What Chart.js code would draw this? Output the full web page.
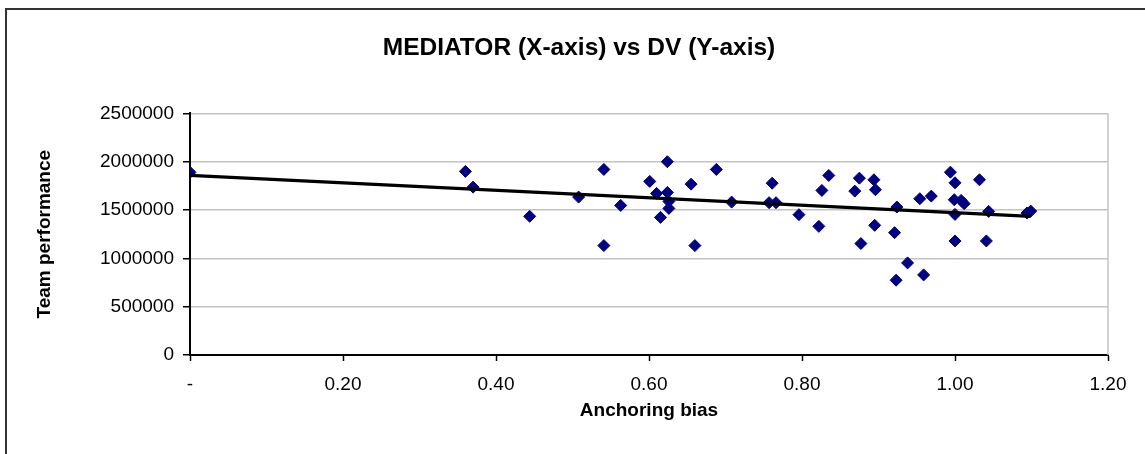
<!DOCTYPE html>
<html>
<head>
<meta charset="utf-8">
<script src="https://cdn.jsdelivr.net/npm/chart.js@4.4.1/dist/chart.umd.min.js"></script>
<style>
  html, body { margin: 0; padding: 0; background: #fff; overflow: hidden; }
  #wrap { width: 1145px; height: 454px; overflow: hidden; }
</style>
</head>
<body>
<div id="wrap"><canvas id="grafico" width="1158" height="470"></canvas></div>
<script>
// anchoring bias (x) and team performance (y)
const anchoring = [
    0.00, 0.36, 0.37, 0.444, 0.508, 0.541, 0.541, 0.563, 0.601, 0.615,
    0.610, 0.624, 0.626, 0.626, 0.624, 0.655, 0.660, 0.688, 0.708, 0.757,
    0.766, 0.761, 0.796, 0.822, 0.826, 0.835, 0.869, 0.875, 0.877, 0.894,
    0.896, 0.895, 0.921, 0.924, 0.923, 0.938, 0.959, 0.954, 0.969, 0.994,
    1.000, 0.999, 1.008, 1.012, 1.000, 1.000, 1.032, 1.044, 1.041, 1.094,
    1.099
];
const performance = [
    1890000, 1900000, 1737000, 1435000, 1634000, 1920000, 1132000, 1548000, 1796000, 1424000,
    1672000, 1682000, 1589000, 1517000, 2000000, 1768000, 1132000, 1920000, 1582000, 1576000,
    1576000, 1778000, 1452000, 1331000, 1703000, 1858000, 1696000, 1830000, 1153000, 1813000,
    1710000, 1342000, 1266000, 1531000, 774000, 953000, 829000, 1617000, 1644000, 1892000,
    1782000, 1607000, 1600000, 1566000, 1455000, 1180000, 1813000, 1486000, 1180000, 1469000,
    1489000
];

// linear trendline end points
const trendX = [0, 1.099];
const trendY = [1858000, 1434000];

const xTickLabels = ['-', '0.20', '0.40', '0.60', '0.80', '1.00', '1.20'];
const yTicks = [0, 500000, 1000000, 1500000, 2000000, 2500000];

const fonte = '"Liberation Sans", Arial, sans-serif';

const moldura = {
    id: 'moldura',
    beforeDraw(chart) {
        const ctx = chart.ctx;
        ctx.save();
        ctx.fillStyle = '#fff';
        ctx.fillRect(0, 0, chart.width, chart.height);
        ctx.strokeStyle = '#333';
        ctx.lineWidth = 2;
        ctx.strokeRect(6, 9, chart.width + 20, chart.height + 20);
        ctx.restore();
    },
    beforeDatasetsDraw(chart) {
        const a = chart.chartArea;
        const ctx = chart.ctx;
        ctx.save();
        ctx.strokeStyle = '#c4c4c4';
        ctx.lineWidth = 1.5;
        ctx.beginPath();
        ctx.moveTo(a.right, a.top);
        ctx.lineTo(a.right, a.bottom);
        ctx.stroke();
        ctx.restore();
    }
};

new Chart(document.getElementById('grafico').getContext('2d'), {
    type: 'scatter',
    data: {
        datasets: [{
            type: 'line',
            label: 'Trend',
            data: trendX.map((x, i) => ({ x: x, y: trendY[i] })),
            borderColor: '#000',
            borderWidth: 3.2,
            pointRadius: 0,
            fill: false,
            order: 0
        }, {
            label: 'Team performance',
            data: anchoring.map((x, i) => ({ x: x, y: performance[i] })),
            pointStyle: 'rectRot',
            pointRadius: 6,
            backgroundColor: '#000080',
            borderColor: '#000080',
            borderWidth: 1,
            order: 1
        }]
    },
    options: {
        responsive: false,
        animation: false,
        devicePixelRatio: 1,
        layout: {
            padding: 0
        },
        plugins: {
            legend: { display: false },
            tooltip: { enabled: false },
            title: {
                display: true,
                text: 'MEDIATOR (X-axis) vs DV (Y-axis)',
                color: '#000',
                font: { family: fonte, size: 24.5, weight: 'bold' },
                padding: { top: 34, bottom: 50 }
            }
        },
        scales: {
            x: {
                type: 'linear',
                min: 0,
                max: 1.2,
                afterBuildTicks: function (scale) {
                    scale.ticks = xTickLabels.map((t, i) => ({ value: i * 0.2 }));
                },
                afterFit: function (scale) { scale.height = 115; },
                ticks: {
                    color: '#000',
                    padding: 12,
                    font: { family: fonte, size: 19 },
                    callback: function (value, index) { return xTickLabels[index]; }
                },
                grid: {
                    drawOnChartArea: false,
                    tickColor: '#000',
                    tickLength: 6,
                    tickWidth: 1.5
                },
                border: { color: '#000', width: 2 },
                title: {
                    display: true,
                    text: 'Anchoring bias',
                    color: '#000',
                    font: { family: fonte, size: 19, weight: 'bold' },
                    padding: { top: 4, bottom: 48 }
                }
            },
            y: {
                min: 0,
                max: 2500000,
                afterBuildTicks: function (scale) {
                    scale.ticks = yTicks.map(v => ({ value: v }));
                },
                afterFit: function (scale) { scale.width = 190; },
                ticks: {
                    color: '#000',
                    padding: 9,
                    font: { family: fonte, size: 19 },
                    callback: function (value) { return String(value); }
                },
                grid: {
                    color: ctx => ctx.tick && ctx.tick.value === 0 ? 'rgba(0,0,0,0)' : '#c4c4c4',
                    lineWidth: 1.5,
                    tickColor: '#000',
                    tickLength: 7,
                    tickWidth: 1.5
                },
                border: { color: '#000', width: 2 },
                title: {
                    display: true,
                    text: 'Team performance',
                    color: '#000',
                    font: { family: fonte, size: 19, weight: 'bold' },
                    padding: { top: 33, bottom: 4 }
                }
            },
            // empty right-hand strip so the title centres on the whole chart box
            margem: {
                position: 'right',
                min: 0,
                max: 1,
                afterFit: function (scale) { scale.width = 50; },
                ticks: { display: false },
                grid: { display: false },
                border: { display: false }
            }
        }
    },
    plugins: [moldura]
});
</script>
</body>
</html>
